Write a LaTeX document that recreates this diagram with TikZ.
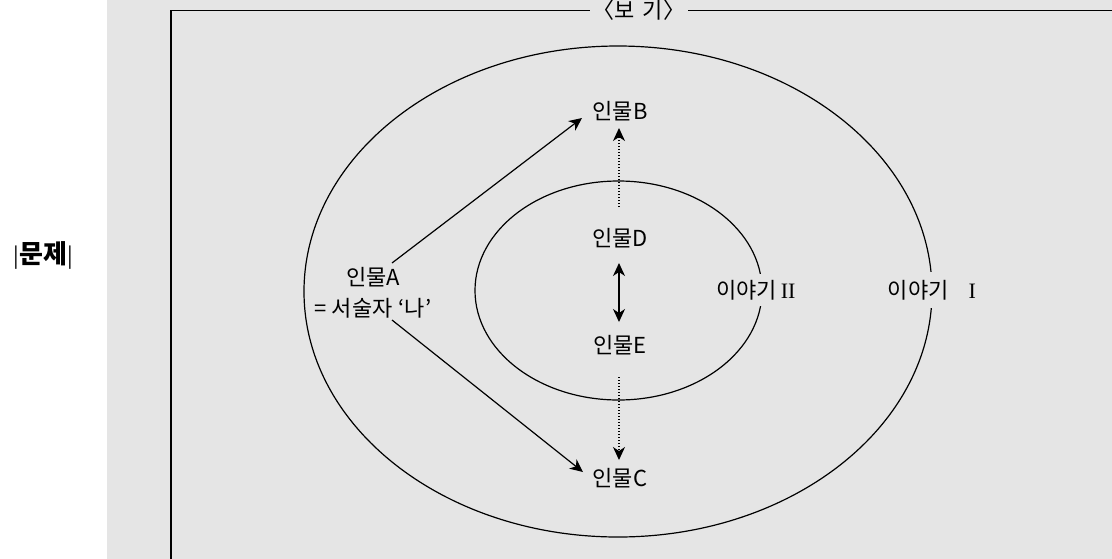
\documentclass[tikz,border=0pt]{standalone}
\usepackage{fontspec}
\setmainfont{Noto Sans CJK KR}
\newfontfamily\romanfont{Liberation Serif}
\usetikzlibrary{arrows.meta}
\definecolor{bg}{RGB}{229,229,229}
\begin{document}
\begin{tikzpicture}[x=1pt,y=-1pt,
  lbl/.style={font=\fontsize{22}{31}\selectfont, inner sep=0pt, align=center},
  tip/.style={-{Stealth[length=13pt,width=12pt,inset=4pt]}},
  arr/.style={line width=1.2pt, tip},
  dotarr/.style={line width=1.2pt, dash pattern=on 1.4pt off 1.6pt, tip},
  both/.style={line width=1.2pt, {Stealth[length=13pt,width=12pt,inset=4pt]}-{Stealth[length=13pt,width=12pt,inset=4pt]}},
  ring/.style={line width=1.2pt}]
\useasboundingbox (0,0) rectangle (1112,558);
\fill[bg] (107,-2) rectangle (1114,560);
% frame
\draw[line width=1.5pt] (1116,10.5) -- (171,10.5) -- (171,564);
\node[lbl, fill=bg, inner xsep=3pt, inner ysep=4pt] (title) at (639,10.5) {〈보\hspace{8pt}기〉};
% side label
\node[font=\fontsize{26}{30}\selectfont\bfseries, inner sep=0pt] (q) at (43.5,255)
  {{\fontsize{21}{24}\selectfont\mdseries|}문제{\fontsize{21}{24}\selectfont\mdseries|}};
% ellipses
\draw[ring] (618,291.5) ellipse [x radius=314, y radius=245.5];
\draw[ring] (618.5,290.5) ellipse [x radius=143.5, y radius=109.5];
% nodes
\node[lbl] (A) at (373,292.5) {인물A\\= 서술자\hspace{6pt}‘나’};
\node[lbl] (B) at (620,111) {인물B};
\node[lbl] (D) at (620,238) {인물D};
\node[lbl] (E) at (620,345) {인물E};
\node[lbl] (C) at (620,478) {인물C};
\node[lbl, fill=bg, inner xsep=2pt, inner ysep=6pt] (s2) at (756,290) {이야기\,{\romanfont II}};
\node[lbl, fill=bg, inner xsep=2pt, inner ysep=8pt] (s1) at (932,290) {이야기\hspace{20pt}{\romanfont I}};
% connectors
\draw[arr] ([shift={(19,-29.5)}]A.center) -- ([shift={(-38,7)}]B.center);
\draw[arr] ([shift={(19,27.5)}]A.center) -- ([shift={(-37,-6)}]C.center);
\draw[dotarr] ([shift={(-1,-31)}]D.center) -- ([shift={(-1,17)}]B.center);
\draw[dotarr] ([shift={(-1,32)}]E.center) -- ([shift={(-1,-18)}]C.center);
\draw[both] ([shift={(-1,25)}]D.center) -- ([shift={(-1,-23)}]E.center);
\end{tikzpicture}
\end{document}
